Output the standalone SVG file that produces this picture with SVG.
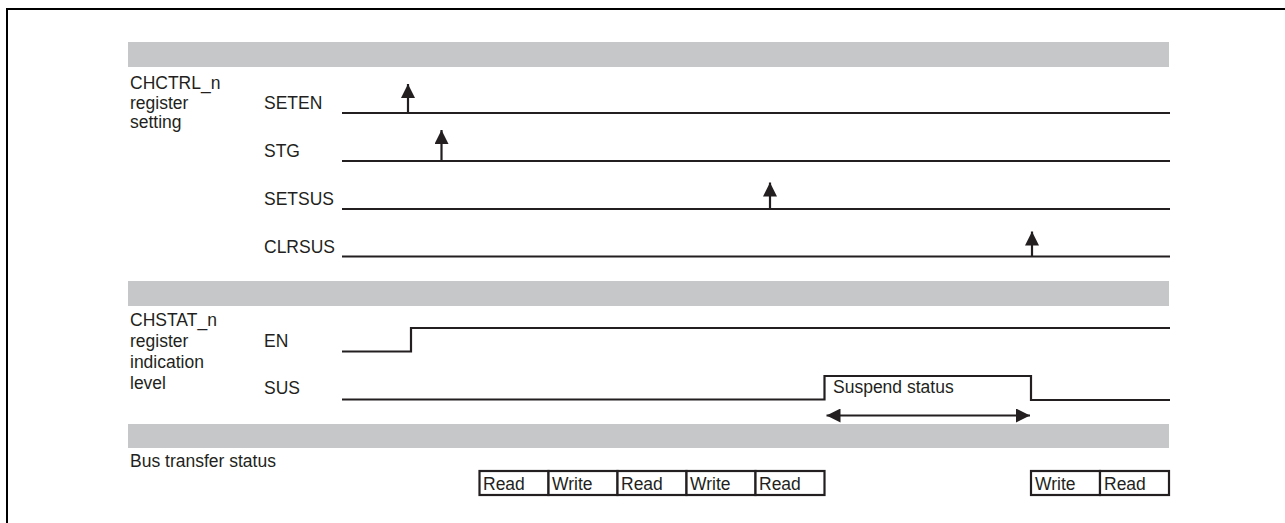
<svg xmlns="http://www.w3.org/2000/svg" width="1285" height="523" viewBox="0 0 1285 523">
<style>
text{font-family:"Liberation Sans",Arial,sans-serif;font-size:17.5px;fill:#231f20}
.bar{fill:#c6c7c9}
.sig{fill:none;stroke:#231f20;stroke-width:2.2}
.box{fill:#fff;stroke:#231f20;stroke-width:2.2}
.frame{fill:none;stroke:#000;stroke-width:2}
</style>
<defs>
<marker id="ah" viewBox="0 0 14 14" refX="14" refY="7" markerWidth="14" markerHeight="14" markerUnits="userSpaceOnUse" orient="auto-start-reverse">
<path d="M0,0 L14,7 L0,14 Z" fill="#231f20"/>
</marker>
</defs>
<rect width="1285" height="523" fill="#fff"/>
<path class="frame" d="M7,523 V9 H1285"/>
<g id="bars">
<rect class="bar" x="128" y="42" width="1041" height="25"/>
<rect class="bar" x="128" y="281" width="1041" height="25"/>
<rect class="bar" x="128" y="424" width="1041" height="24"/>
</g>
<g id="labels">
<text x="130" y="89">CHCTRL_n</text>
<text x="130" y="109">register</text>
<text x="130" y="128">setting</text>
<text x="130" y="326">CHSTAT_n</text>
<text x="130" y="347">register</text>
<text x="130" y="368">indication</text>
<text x="130" y="389">level</text>
<text x="130" y="467">Bus transfer status</text>
</g>
<g id="sig-SETEN"><text x="264" y="109">SETEN</text><path class="sig" d="M342,113 H1170"/></g>
<g id="sig-STG"><text x="264" y="157">STG</text><path class="sig" d="M342,161 H1170"/></g>
<g id="sig-SETSUS"><text x="264" y="205">SETSUS</text><path class="sig" d="M342,209 H1170"/></g>
<g id="sig-CLRSUS"><text x="264" y="253">CLRSUS</text><path class="sig" d="M342,256.5 H1170"/></g>
<g id="sig-EN"><text x="264" y="347">EN</text><path class="sig" d="M342,351.5 H411 V328 H1170"/></g>
<g id="sig-SUS"><text x="264" y="394">SUS</text><path class="sig" d="M342,399.5 H824.5 V376 H1031 V400 H1170"/><text x="833" y="393">Suspend status</text></g>
<g id="connectors" fill="none" stroke="#231f20" stroke-width="2.2">
<path d="M408,113 V84" marker-end="url(#ah)"/>
<path d="M441.5,161 V130" marker-end="url(#ah)"/>
<path d="M770,209 V182.5" marker-end="url(#ah)"/>
<path d="M1032,256.5 V231.5" marker-end="url(#ah)"/>
<path d="M826.5,415.5 H1030" marker-start="url(#ah)" marker-end="url(#ah)"/>
</g>
<g id="bus">
<rect class="box" x="479.5" y="471" width="69" height="24"/><text x="483" y="490">Read</text>
<rect class="box" x="548.5" y="471" width="69" height="24"/><text x="552" y="490">Write</text>
<rect class="box" x="617.5" y="471" width="69" height="24"/><text x="621" y="490">Read</text>
<rect class="box" x="686.5" y="471" width="69" height="24"/><text x="690" y="490">Write</text>
<rect class="box" x="755.5" y="471" width="69" height="24"/><text x="759" y="490">Read</text>
<rect class="box" x="1031" y="471" width="69" height="24"/><text x="1035" y="490">Write</text>
<rect class="box" x="1100" y="471" width="69" height="24"/><text x="1104" y="490">Read</text>
</g>
</svg>
